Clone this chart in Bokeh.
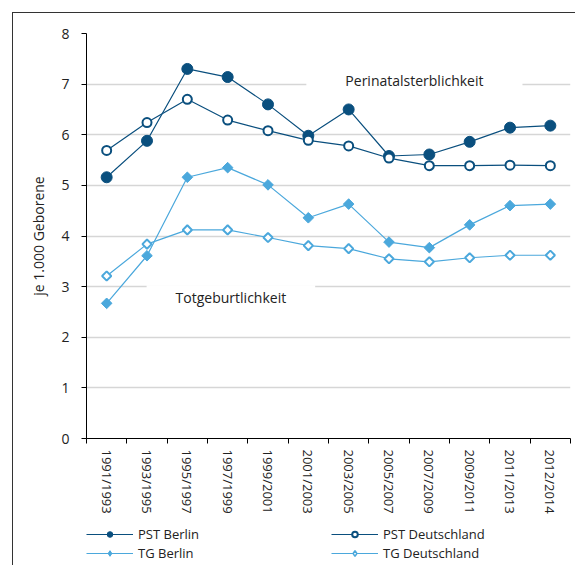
import numpy as np
from bokeh.plotting import figure
from bokeh.layouts import column
from bokeh.models import Range1d, FixedTicker, Label, Legend, LegendItem
from bokeh.embed import file_html
from bokeh.resources import INLINE

periods = ["1991/1993", "1993/1995", "1995/1997", "1997/1999", "1999/2001", "2001/2003",
           "2003/2005", "2005/2007", "2007/2009", "2009/2011", "2011/2013", "2012/2014"]
pst_berlin = [5.16, 5.88, 7.30, 7.14, 6.60, 5.98, 6.50, 5.58, 5.61, 5.86, 6.14, 6.18]
pst_deutschland = [5.69, 6.24, 6.70, 6.29, 6.08, 5.89, 5.78, 5.54, 5.39, 5.39, 5.40, 5.39]
tg_berlin = [2.67, 3.61, 5.16, 5.35, 5.01, 4.36, 4.63, 3.88, 3.77, 4.22, 4.60, 4.63]
tg_deutschland = [3.21, 3.84, 4.12, 4.12, 3.97, 3.81, 3.75, 3.55, 3.49, 3.57, 3.62, 3.62]
y_ticks = [0, 1, 2, 3, 4, 5, 6, 7, 8]
series_labels = ["PST Berlin", "PST Deutschland", "TG Berlin", "TG Deutschland"]
y_title = "je 1.000 Geborene"
note_pst = "Perinatalsterblichkeit"
note_tg = "Totgeburtlichkeit"

FONT = "Open Sans"
DARK = "#0a4f7e"
LIGHT = "#4ba8dc"
TXT = "#222222"

n = len(periods)
xc = np.arange(n) + 0.5

p = figure(width=562, height=512, x_range=Range1d(0, n), y_range=Range1d(y_ticks[0], y_ticks[-1]),
           output_backend="svg", toolbar_location=None,
           min_border_left=73, min_border_top=20, min_border_right=5, min_border_bottom=87)
p.outline_line_color = None
p.background_fill_color = "white"
p.border_fill_color = "white"

# x axis
xa = p.xaxis[0]
xa.ticker = FixedTicker(ticks=list(xc), minor_ticks=list(range(n + 1)))
xa.major_label_overrides = {float(x): lab for x, lab in zip(xc, periods)}
xa.major_tick_line_color = None
xa.major_tick_out = 5
xa.major_tick_in = 0
xa.minor_tick_out = 5
xa.minor_tick_in = 0
xa.minor_tick_line_color = "black"
xa.axis_line_color = "black"
xa.major_label_orientation = "vertical"
xa.major_label_standoff = 6
xa.major_label_text_font = FONT
xa.major_label_text_font_size = "13px"
xa.major_label_text_color = TXT

# y axis
ya = p.yaxis[0]
ya.ticker = FixedTicker(ticks=y_ticks, minor_ticks=[])
ya.major_tick_out = 5
ya.major_tick_in = 0
ya.major_tick_line_color = "black"
ya.axis_line_color = "black"
ya.major_label_standoff = 12
ya.major_label_text_font = FONT
ya.major_label_text_font_size = "14px"
ya.major_label_text_color = TXT
ya.axis_label = y_title
ya.axis_label_text_font = FONT
ya.axis_label_text_font_size = "14px"
ya.axis_label_text_font_style = "normal"
ya.axis_label_text_color = TXT
ya.axis_label_standoff = 10

p.xgrid.visible = False
p.ygrid.ticker = FixedTicker(ticks=y_ticks[1:])
p.ygrid.grid_line_color = "#d6d6d6"
p.ygrid.grid_line_width = 1.5

# annotations with white boxes interrupting the gridlines
p.add_layout(Label(x=8.13, y=7.07, text=note_pst, text_align="center", text_baseline="alphabetic",
                   text_font=FONT, text_font_size="14px", text_color=TXT,
                   background_fill_color="white",
                   padding=dict(left=39, right=39, top=3, bottom=3)))
p.add_layout(Label(x=3.58, y=2.78, text=note_tg, text_align="center", text_baseline="alphabetic",
                   text_font=FONT, text_font_size="14px", text_color=TXT,
                   background_fill_color="white",
                   padding=dict(left=29, right=29, top=3, bottom=3)))

# series
p.line(xc, pst_berlin, line_color=DARK, line_width=1.2)
p.scatter(xc, pst_berlin, marker="circle", size=11, fill_color=DARK, line_color=DARK)
p.line(xc, pst_deutschland, line_color=DARK, line_width=1.2)
p.scatter(xc, pst_deutschland, marker="circle", size=9, fill_color="white",
          line_color=DARK, line_width=2)
p.line(xc, tg_berlin, line_color=LIGHT, line_width=1.2)
p.scatter(xc, tg_berlin, marker="square", angle=np.pi / 4, size=7.5,
          fill_color=LIGHT, line_color=LIGHT)
p.line(xc, tg_deutschland, line_color=LIGHT, line_width=1.2)
p.scatter(xc, tg_deutschland, marker="square", angle=np.pi / 4, size=6.5,
          fill_color="white", line_color=LIGHT, line_width=2)

# legend strip below the chart (hidden renderers provide the legend symbols)
lg = figure(width=562, height=40, x_range=Range1d(0, 1), y_range=Range1d(0, 1),
            x_axis_type=None, y_axis_type=None, output_backend="svg", toolbar_location=None,
            min_border=0)
lg.outline_line_color = None
lg.grid.visible = False
k1 = lg.line(xc, pst_berlin, line_color=DARK, line_width=1.2, visible=False)
m1 = lg.scatter(xc, pst_berlin, marker="circle", size=11, fill_color=DARK, line_color=DARK,
                visible=False)
k2 = lg.line(xc, pst_deutschland, line_color=DARK, line_width=1.2, visible=False)
m2 = lg.scatter(xc, pst_deutschland, marker="circle", size=9, fill_color="white",
                line_color=DARK, line_width=2, visible=False)
k3 = lg.line(xc, tg_berlin, line_color=LIGHT, line_width=1.2, visible=False)
m3 = lg.scatter(xc, tg_berlin, marker="diamond", size=10, fill_color=LIGHT, line_color=LIGHT,
                visible=False)
k4 = lg.line(xc, tg_deutschland, line_color=LIGHT, line_width=1.2, visible=False)
m4 = lg.scatter(xc, tg_deutschland, marker="diamond", size=9, fill_color="white",
                line_color=LIGHT, line_width=1.5, visible=False)

legend = Legend(items=[LegendItem(label=series_labels[0], renderers=[k1, m1]),
                       LegendItem(label=series_labels[1], renderers=[k2, m2]),
                       LegendItem(label=series_labels[2], renderers=[k3, m3]),
                       LegendItem(label=series_labels[3], renderers=[k4, m4])],
                ncols=2, orientation="horizontal", glyph_width=47, glyph_height=14,
                label_standoff=5, label_width=192, label_height=14, spacing=1, padding=0, margin=0,
                border_line_color=None, background_fill_alpha=0, inactive_fill_alpha=0,
                label_text_font=FONT, label_text_font_size="13px", label_text_color=TXT,
                location=(0, 3))
lg.add_layout(legend, "center")

layout = column(p, lg, spacing=0,
                styles={"margin-left": "12px", "margin-top": "12px",
                        "border-left": "1px solid #333", "border-top": "1px solid #333"})

open("out.html", "w").write(file_html(layout, INLINE))
